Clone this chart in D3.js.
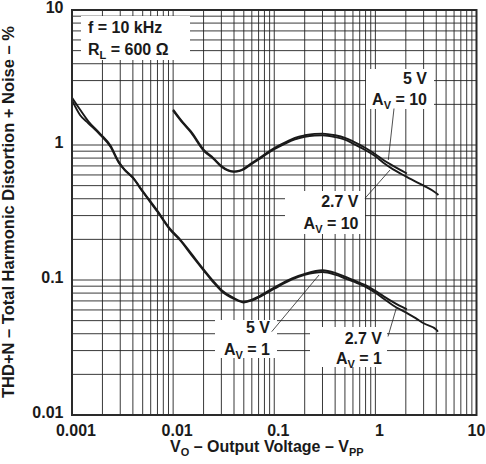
<!DOCTYPE html>
<html>
<head>
<meta charset="utf-8">
<script src="https://cdn.jsdelivr.net/npm/d3@7"></script>
<style>
  body{margin:0;background:#fff;}
  text{font-family:"Liberation Sans",Arial,sans-serif;font-weight:bold;fill:#1a1a1a;}
</style>
</head>
<body>
<div id="chart"></div>
<script>
let w=486;
let h=464;
let margin = ({top: 10, right: 9.5, bottom: 49, left: 72});

// Av = 10, 5 V (stops near 2 Vpp)
let vo10_5v  = [0.01, 0.0125, 0.015, 0.02, 0.025, 0.03, 0.035, 0.04, 0.045, 0.05, 0.06, 0.07, 0.08, 0.1, 0.13, 0.16, 0.2, 0.25, 0.3, 0.4, 0.5, 0.6, 0.8, 1.0, 1.2, 1.5, 2.05];
let thd10_5v = [1.83, 1.47, 1.26, 0.925, 0.80, 0.70, 0.652, 0.638, 0.645, 0.668, 0.735, 0.795, 0.85, 0.95, 1.05, 1.13, 1.18, 1.21, 1.215, 1.18, 1.13, 1.065, 0.95, 0.855, 0.775, 0.70, 0.615];
// Av = 10, 2.7 V
let vo10_27v  = [0.01, 0.0125, 0.015, 0.02, 0.025, 0.03, 0.035, 0.04, 0.045, 0.05, 0.06, 0.07, 0.08, 0.1, 0.13, 0.16, 0.2, 0.25, 0.3, 0.4, 0.5, 0.6, 0.8, 1.0, 1.2, 1.5, 2.0, 2.5, 3.0, 4.0, 4.2];
let thd10_27v = [1.80, 1.45, 1.24, 0.91, 0.79, 0.69, 0.645, 0.632, 0.64, 0.66, 0.725, 0.78, 0.835, 0.93, 1.03, 1.10, 1.15, 1.175, 1.18, 1.145, 1.095, 1.025, 0.915, 0.825, 0.74, 0.66, 0.585, 0.535, 0.50, 0.44, 0.426];
// Av = 1, 5 V
let vo1_5v  = [0.001, 0.0012, 0.00145, 0.0019, 0.0024, 0.0029, 0.0033, 0.004, 0.005, 0.007, 0.0093, 0.0117, 0.015, 0.02, 0.025, 0.03, 0.04, 0.05, 0.06, 0.07, 0.1, 0.15, 0.2, 0.3, 0.4, 0.5, 0.6, 0.8, 1.0, 1.2, 1.5, 2.05];
let thd1_5v = [2.24, 1.83, 1.50, 1.21, 0.99, 0.75, 0.66, 0.575, 0.455, 0.325, 0.24, 0.2, 0.158, 0.12, 0.098, 0.0845, 0.0735, 0.069, 0.0715, 0.0755, 0.088, 0.103, 0.111, 0.118, 0.113, 0.106, 0.1, 0.0915, 0.083, 0.076, 0.0685, 0.0605];
// Av = 1, 2.7 V
let vo1_27v  = [0.001, 0.0012, 0.00145, 0.0019, 0.0024, 0.0029, 0.0033, 0.004, 0.005, 0.007, 0.0093, 0.0117, 0.015, 0.02, 0.025, 0.03, 0.04, 0.05, 0.06, 0.07, 0.1, 0.15, 0.2, 0.3, 0.4, 0.5, 0.6, 0.8, 1.0, 1.2, 1.5, 2.0, 2.5, 3.0, 4.0, 4.15];
let thd1_27v = [2.15, 1.67, 1.45, 1.19, 0.97, 0.74, 0.655, 0.57, 0.45, 0.32, 0.236, 0.197, 0.155, 0.118, 0.096, 0.083, 0.0725, 0.0682, 0.0705, 0.0742, 0.0862, 0.101, 0.109, 0.1145, 0.1095, 0.103, 0.0975, 0.089, 0.0805, 0.073, 0.0648, 0.0575, 0.0522, 0.0478, 0.0429, 0.0414];

let xTicks = [0.001, 0.01, 0.1, 1, 10];
let xTickLabels = ["0.001", "0.01", "0.1", "1", "10"];
let yTicks = [0.01, 0.1, 1, 10];
let yTickLabels = ["0.01", "0.1", "1", "10"];

let viz = d3.select("#chart")
  .append("svg")
    .attr("width", w)
    .attr("height", h)
;

let xScale = d3.scaleLog().domain([0.001, 10]).range([margin.left, w-margin.right]);
let yScale = d3.scaleLog().domain([0.01, 10]).range([h-margin.bottom, margin.top]);

// grid, one line per 1..9 of each decade
let grid = viz.append("g").attr("class", "grid");
grid.selectAll(".vgrid").data(xScale.ticks()).enter()
  .append("line")
    .attr("x1", d=>xScale(d)).attr("x2", d=>xScale(d))
    .attr("y1", margin.top).attr("y2", h-margin.bottom)
    .attr("stroke", "#222")
    .attr("stroke-width", 0.9)
;
grid.selectAll(".hgrid").data(yScale.ticks()).enter()
  .append("line")
    .attr("y1", d=>yScale(d)).attr("y2", d=>yScale(d))
    .attr("x1", margin.left).attr("x2", w-margin.right)
    .attr("stroke", "#222")
    .attr("stroke-width", 0.9)
;

// white boxes behind the annotations
let boxes = [[81, 16, 109, 44], [366, 69, 68, 40], [285, 191, 80, 43], [215, 320, 62, 38], [310, 327, 77, 40]];
viz.selectAll(".box").data(boxes).enter()
  .append("rect")
    .attr("x", d=>d[0]).attr("y", d=>d[1])
    .attr("width", d=>d[2]).attr("height", d=>d[3])
    .attr("fill", "#fff")
;

let line = d3.line()
  .x(d=>xScale(d[0]))
  .y(d=>yScale(d[1]))
  .curve(d3.curveMonotoneX);

let series = [
  d3.zip(vo10_5v, thd10_5v),
  d3.zip(vo10_27v, thd10_27v),
  d3.zip(vo1_5v, thd1_5v),
  d3.zip(vo1_27v, thd1_27v)
];
viz.selectAll(".curve").data(series).enter()
  .append("path")
    .attr("class", "curve")
    .attr("d", line)
    .attr("fill", "none")
    .attr("stroke", "#1a1a1a")
    .attr("stroke-width", 1.9)
;

// frame
viz.append("rect")
  .attr("x", margin.left).attr("y", margin.top)
  .attr("width", w-margin.right-margin.left)
  .attr("height", h-margin.bottom-margin.top)
  .attr("fill", "none")
  .attr("stroke", "#2a2a2a")
  .attr("stroke-width", 2)
;

// tick labels
viz.selectAll(".xlabel").data(xTicks).enter()
  .append("text")
    .attr("x", d=>Math.min(xScale(d)+4, w-9.5))
    .attr("y", 436)
    .attr("text-anchor", "middle")
    .attr("font-size", 16)
    .text((d,i)=>xTickLabels[i])
;
viz.selectAll(".ylabel").data(yTicks).enter()
  .append("text")
    .attr("x", 63.5)
    .attr("y", d=>yScale(d)+2.5)
    .attr("text-anchor", "end")
    .attr("font-size", 16)
    .text((d,i)=>yTickLabels[i])
;

// axis titles
let xt = viz.append("text")
  .attr("x", 170).attr("y", 452)
  .attr("font-size", 16);
xt.append("tspan").text("V");
xt.append("tspan").attr("dy", 4).attr("font-size", 11).text("O");
xt.append("tspan").attr("dy", -4).text(" \u2013 Output Voltage \u2013 V");
xt.append("tspan").attr("dy", 4).attr("font-size", 11).text("PP");

viz.append("text")
  .attr("transform", "translate(13.5,212) rotate(-90)")
  .attr("text-anchor", "middle")
  .attr("font-size", 16.5)
  .text("THD+N \u2013 Total Harmonic Distortion + Noise \u2013 %");

// condition text
viz.append("text").attr("x", 88).attr("y", 33).attr("font-size", 16).text("f = 10 kHz");
let rl = viz.append("text").attr("x", 88).attr("y", 54.5).attr("font-size", 16);
rl.append("tspan").text("R");
rl.append("tspan").attr("dy", 4).attr("font-size", 11).text("L");
rl.append("tspan").attr("dy", -4).text(" = 600 \u03A9");

// curve callouts, right aligned two-line labels
function callout(top, gain, x, y1, y2){
  viz.append("text").attr("x", x).attr("y", y1).attr("text-anchor", "end").attr("font-size", 16).text(top);
  let t = viz.append("text").attr("x", x).attr("y", y2).attr("text-anchor", "end").attr("font-size", 16);
  t.append("tspan").text("A");
  t.append("tspan").attr("dy", 4).attr("font-size", 11).text("V");
  t.append("tspan").attr("dy", -4).text(" = "+gain);
}
callout("5 V", "10", 427, 83.5, 105);
callout("2.7 V", "10", 358.5, 206.5, 228.5);
callout("5 V", "1", 270, 333, 355);
callout("2.7 V", "1", 382, 343.5, 363.5);

// leader lines
let leaders = [[394, 108.5, 388.3, 160], [365, 198.3, 390, 170], [271.7, 331.7, 319, 275], [388, 336.5, 396.5, 307.5]];
viz.selectAll(".leader").data(leaders).enter()
  .append("line")
    .attr("x1", d=>d[0]).attr("y1", d=>d[1])
    .attr("x2", d=>d[2]).attr("y2", d=>d[3])
    .attr("stroke", "#222")
    .attr("stroke-width", 0.8)
;
</script>
</body>
</html>
